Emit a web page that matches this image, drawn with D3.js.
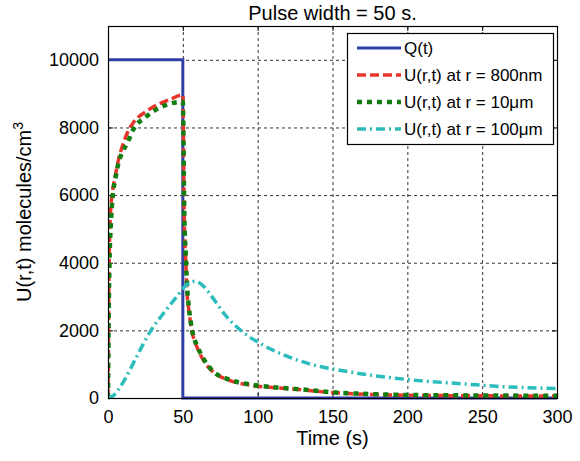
<!DOCTYPE html>
<html>
<head>
<meta charset="utf-8">
<script src="https://cdn.jsdelivr.net/npm/d3@7"></script>
<style>
    body { margin: 0; background: #fff; }
    text { font-family: "Liberation Sans", Arial, Helvetica, sans-serif; fill: #000; }
</style>
</head>
<body>
<svg></svg>
<script>
// данные
let xTicks = [0, 50, 100, 150, 200, 250, 300];
let yTicks = [0, 2000, 4000, 6000, 8000, 10000];

let qTime = [0, 50, 50, 300];
let qValue = [10000, 10000, 0, 0];

let uTime = [0, 0.5, 1, 2, 3, 5, 7, 10, 13, 17, 25, 33, 41, 50, 51, 52, 53, 54, 56, 60, 64, 70, 80, 95, 110, 125, 150, 180, 200, 250, 300];
let u800nm = [0, 3000, 4600, 5700, 6100, 6600, 7050, 7500, 7850, 8150, 8460, 8670, 8820, 8960, 5200, 4000, 3000, 2600, 2000, 1450, 1100, 780, 540, 380, 310, 260, 160, 100, 80, 65, 55];
let u10um = [0, 2600, 4000, 5200, 5900, 6500, 6950, 7300, 7550, 7950, 8300, 8550, 8700, 8760, 5400, 4200, 3200, 2700, 2050, 1500, 1150, 800, 560, 400, 320, 270, 170, 110, 90, 75, 65];

let u100umTime = [0, 3, 11, 19, 28, 37, 46, 51, 58, 64, 68, 79, 90, 101, 120, 137, 150, 170, 204, 240, 262, 300];
let u100um = [0, 50, 530, 1210, 1950, 2500, 3000, 3280, 3450, 3300, 3080, 2420, 1950, 1630, 1230, 980, 860, 710, 530, 410, 340, 280];

let seriesNames = ["Q(t)", "U(r,t) at r = 800nm", "U(r,t) at r = 10\u03bcm", "U(r,t) at r = 100\u03bcm"];

function drawChart() {
    let width = 580;
    let height = 461;
    let left = 108, right = 557, top = 26, bottom = 398;

    let svg = d3.select("svg")
        .attr("width", width)
        .attr("height", height);

    // шкалы
    let scaleX = d3.scaleLinear().domain([0, 300]).range([left, right]);
    let scaleY = d3.scaleLinear().domain([0, 11000]).range([bottom, top]);

    // сетка
    let grid = svg.append("g")
        .attr("stroke", "#333")
        .attr("stroke-width", 1)
        .attr("stroke-dasharray", "3,3");
    grid.selectAll(".gx")
        .data(xTicks.slice(1, -1))
        .enter()
        .append("line")
        .attr("x1", d => scaleX(d) + 0.5).attr("x2", d => scaleX(d) + 0.5)
        .attr("y1", top).attr("y2", bottom);
    grid.selectAll(".gy")
        .data(yTicks.slice(1))
        .enter()
        .append("line")
        .attr("x1", left).attr("x2", right)
        .attr("y1", d => scaleY(d) + 0.5).attr("y2", d => scaleY(d) + 0.5);

    // оси, засечки внутрь как в matlab
    let axisX = d3.axisBottom(scaleX).tickValues(xTicks).tickFormat(d3.format("d"))
        .tickSizeInner(-5).tickSizeOuter(0).tickPadding(12);
    let axisY = d3.axisLeft(scaleY).tickValues(yTicks).tickFormat(d3.format("d"))
        .tickSizeInner(-5).tickSizeOuter(0).tickPadding(9);
    let gx = svg.append("g")
        .attr("transform", `translate(0, ${bottom})`)
        .call(axisX);
    let gy = svg.append("g")
        .attr("transform", `translate(${left}, 0)`)
        .call(axisY);
    svg.append("g")
        .attr("transform", `translate(0, ${top})`)
        .call(d3.axisTop(scaleX).tickValues(xTicks).tickSizeInner(-5).tickSizeOuter(0).tickFormat(""));
    svg.append("g")
        .attr("transform", `translate(${right}, 0)`)
        .call(d3.axisRight(scaleY).tickValues(yTicks).tickSizeInner(-5).tickSizeOuter(0).tickFormat(""));
    svg.selectAll(".domain").remove();
    svg.selectAll(".tick line").attr("stroke", "#000");
    gx.selectAll("text").style("font-size", "18px").style("font-family", "Liberation Sans, Arial, sans-serif");
    gy.selectAll("text").style("font-size", "18px").style("font-family", "Liberation Sans, Arial, sans-serif");

    // линии
    svg.append("clipPath").attr("id", "plot")
        .append("rect").attr("x", left).attr("y", top - 2).attr("width", right - left + 2).attr("height", bottom - top + 4);

    let lineLinear = d3.line().x(d => scaleX(d[0])).y(d => scaleY(d[1]));
    let lineSmooth = d3.line().x(d => scaleX(d[0])).y(d => scaleY(d[1])).curve(d3.curveMonotoneX);

    let series = [
        { name: seriesNames[0], data: d3.zip(qTime, qValue), line: lineLinear, color: "#2f3fa6", width: 3, dash: null },
        { name: seriesNames[1], data: d3.zip(uTime, u800nm), line: lineSmooth, color: "#e8352b", width: 3.5, dash: "9,4" },
        { name: seriesNames[2], data: d3.zip(uTime, u10um), line: lineSmooth, color: "#107f10", width: 4.5, dash: "5,5" },
        { name: seriesNames[3], data: d3.zip(u100umTime, u100um), line: lineSmooth, color: "#2cbcbc", width: 3.5, dash: "9,4,2,4" }
    ];

    let plot = svg.append("g").attr("clip-path", "url(#plot)");
    for (let s of series) {
        plot.append("path")
            .attr("d", s.line(s.data))
            .attr("fill", "none")
            .attr("stroke", s.color)
            .attr("stroke-width", s.width)
            .attr("stroke-dasharray", s.dash);
    }

    // рамка графика
    svg.append("rect")
        .attr("x", left + 0.5).attr("y", top + 0.5)
        .attr("width", right - left).attr("height", bottom - top)
        .attr("fill", "none").attr("stroke", "#000").attr("stroke-width", 1.2);

    // легенда
    let legend = svg.append("g").attr("transform", "translate(347, 33)");
    legend.append("rect")
        .attr("x", 0.5).attr("y", 0.5).attr("width", 206).attr("height", 111)
        .attr("fill", "#fff").attr("stroke", "#000").attr("stroke-width", 1.2);
    let rows = legend.selectAll(".item")
        .data(series)
        .enter()
        .append("g")
        .attr("transform", (d, i) => `translate(0, ${15 + i * 27})`);
    rows.append("line")
        .attr("x1", 10).attr("x2", 54).attr("y1", 0).attr("y2", 0)
        .attr("stroke", d => d.color)
        .attr("stroke-width", d => d.width)
        .attr("stroke-dasharray", d => d.dash);
    rows.append("text")
        .attr("x", 57).attr("y", 6)
        .style("font-size", "17px")
        .text(d => d.name);

    // подписи
    svg.append("text")
        .attr("x", (left + right) / 2).attr("y", 20)
        .attr("text-anchor", "middle")
        .style("font-size", "20px")
        .text("Pulse width = 50 s.");
    svg.append("text")
        .attr("x", (left + right) / 2).attr("y", 445)
        .attr("text-anchor", "middle")
        .style("font-size", "20px")
        .text("Time (s)");
    let yLabel = svg.append("text")
        .attr("transform", `translate(31, ${(top + bottom) / 2}) rotate(-90)`)
        .attr("text-anchor", "middle")
        .style("font-size", "20px");
    yLabel.append("tspan").text("U(r,t) molecules/cm");
    yLabel.append("tspan").attr("dy", -8).style("font-size", "14px").text("3");
}

drawChart();
</script>
</body>
</html>
